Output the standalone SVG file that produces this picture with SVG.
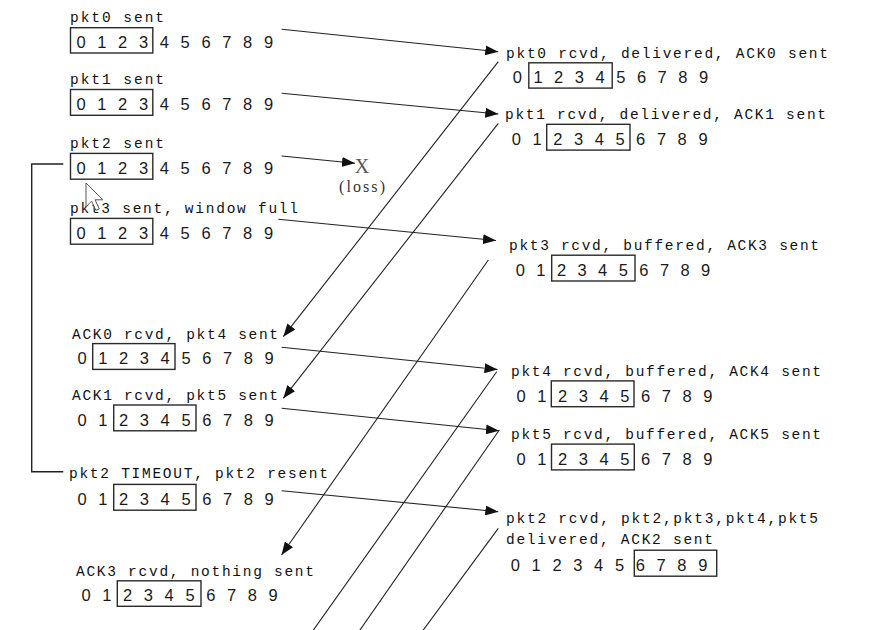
<svg xmlns="http://www.w3.org/2000/svg" width="896" height="630" viewBox="0 0 896 630">
<style>
.lbl{font-family:"Liberation Mono","Courier New",monospace;font-size:14.5px;fill:#111}
.dg{font-family:"Liberation Sans",Arial,sans-serif;font-size:16.5px;fill:#1a1a1a;text-anchor:middle}
.box{fill:none;stroke:#2a2a2a;stroke-width:1.4}
.ln{fill:none;stroke:#222;stroke-width:1.1}
.ar{marker-end:url(#ah)}
.serif{font-family:"Liberation Serif","Times New Roman",serif;fill:#333}
</style>
<defs>
<marker id="ah" viewBox="0 0 13 10" refX="13" refY="5" markerWidth="13" markerHeight="10" markerUnits="userSpaceOnUse" orient="auto">
<path d="M0,0 L13,5 L0,10 z" fill="#111"/>
</marker>
</defs>
<rect width="896" height="630" fill="#fff"/>

<g id="sender-pkt0">
<text class="lbl" x="70" y="22" textLength="94" lengthAdjust="spacing">pkt0 sent</text>
<rect class="box" x="70.5" y="27.7" width="82.3" height="25.3"/>
<text class="dg" x="81 101.8 122.7 143.5 164.3 185.2 206 226.8 247.6 268.5" y="48.3">0123456789</text>
</g>

<g id="sender-pkt1">
<text class="lbl" x="70" y="84" textLength="94" lengthAdjust="spacing">pkt1 sent</text>
<rect class="box" x="70.5" y="89.5" width="82.3" height="25.8"/>
<text class="dg" x="81 101.8 122.7 143.5 164.3 185.2 206 226.8 247.6 268.5" y="110.2">0123456789</text>
</g>

<g id="sender-pkt2">
<text class="lbl" x="70" y="148" textLength="94" lengthAdjust="spacing">pkt2 sent</text>
<rect class="box" x="70.5" y="153.4" width="82.3" height="25.8"/>
<text class="dg" x="81 101.8 122.7 143.5 164.3 185.2 206 226.8 247.6 268.5" y="174">0123456789</text>
</g>

<g id="sender-pkt3">
<text class="lbl" x="70" y="213" textLength="228" lengthAdjust="spacing">pkt3 sent, window full</text>
<rect class="box" x="70.5" y="218.4" width="82.3" height="25.8"/>
<text class="dg" x="81 101.8 122.7 143.5 164.3 185.2 206 226.8 247.6 268.5" y="239">0123456789</text>
</g>

<g id="sender-ack0">
<text class="lbl" x="72" y="338.5" textLength="206" lengthAdjust="spacing">ACK0 rcvd, pkt4 sent</text>
<rect class="box" x="92.7" y="343.6" width="82.3" height="25.8"/>
<text class="dg" x="82 102.8 123.6 144.4 165.2 186 206.8 227.6 248.4 269.2" y="364.2">0123456789</text>
</g>

<g id="sender-ack1">
<text class="lbl" x="72" y="399.5" textLength="206" lengthAdjust="spacing">ACK1 rcvd, pkt5 sent</text>
<rect class="box" x="113.7" y="405" width="82.3" height="25.8"/>
<text class="dg" x="82 102.8 123.6 144.4 165.2 186 206.8 227.6 248.4 269.2" y="425.6">0123456789</text>
</g>

<g id="sender-timeout">
<text class="lbl" x="69" y="478" textLength="259" lengthAdjust="spacing">pkt2 TIMEOUT, pkt2 resent</text>
<rect class="box" x="113.7" y="484.4" width="82.3" height="25.8"/>
<text class="dg" x="82 102.8 123.6 144.4 165.2 186 206.8 227.6 248.4 269.2" y="505">0123456789</text>
</g>

<g id="sender-ack3">
<text class="lbl" x="76" y="575.5" textLength="238" lengthAdjust="spacing">ACK3 rcvd, nothing sent</text>
<rect class="box" x="117.3" y="580.8" width="83.7" height="25.5"/>
<text class="dg" x="86 106.8 127.6 148.4 169.2 190 210.8 231.6 252.4 273.2" y="601.3">0123456789</text>
</g>

<g id="receiver-pkt0">
<text class="lbl" x="506" y="57.5" textLength="322" lengthAdjust="spacing">pkt0 rcvd, delivered, ACK0 sent</text>
<rect class="box" x="528.8" y="62.8" width="83.4" height="25.3"/>
<text class="dg" x="517.3 538 558.7 579.4 600.1 620.8 641.5 662.2 682.9 703.6" y="83.4">0123456789</text>
</g>

<g id="receiver-pkt1">
<text class="lbl" x="505" y="118.8" textLength="321" lengthAdjust="spacing">pkt1 rcvd, delivered, ACK1 sent</text>
<rect class="box" x="546.7" y="124.3" width="83.3" height="25.8"/>
<text class="dg" x="516.3 537 557.8 578.5 599.3 620 640.7 661.5 682.2 703" y="144.9">0123456789</text>
</g>

<g id="receiver-pkt3">
<text class="lbl" x="509" y="249.8" textLength="310" lengthAdjust="spacing">pkt3 rcvd, buffered, ACK3 sent</text>
<rect class="box" x="551.7" y="255.2" width="83.3" height="25.8"/>
<text class="dg" x="520.3 540.9 561.5 582.1 602.7 623.3 643.9 664.5 685.1 705.7" y="275.8">0123456789</text>
</g>

<g id="receiver-pkt4">
<text class="lbl" x="511" y="375.5" textLength="310" lengthAdjust="spacing">pkt4 rcvd, buffered, ACK4 sent</text>
<rect class="box" x="551.3" y="380.9" width="82.7" height="25.8"/>
<text class="dg" x="521 541.8 562.5 583.3 604 624.8 645.5 666.3 687 707.8" y="401.5">0123456789</text>
</g>

<g id="receiver-pkt5">
<text class="lbl" x="511" y="438.6" textLength="310" lengthAdjust="spacing">pkt5 rcvd, buffered, ACK5 sent</text>
<rect class="box" x="551.5" y="444.1" width="82.8" height="25.8"/>
<text class="dg" x="521 541.8 562.5 583.3 604 624.8 645.5 666.3 687 707.8" y="464.7">0123456789</text>
</g>

<g id="receiver-pkt2">
<text class="lbl" x="506" y="523" textLength="312" lengthAdjust="spacing">pkt2 rcvd, pkt2,pkt3,pkt4,pkt5</text>
<text class="lbl" x="506" y="543.5" textLength="207" lengthAdjust="spacing">delivered, ACK2 sent</text>
<rect class="box" x="634.3" y="550.2" width="82.4" height="26"/>
<text class="dg" x="515.3 536.1 557 577.8 598.6 619.5 640.3 661.1 681.9 702.8" y="570.8">0123456789</text>
</g>

<g id="loss">
<text class="serif" x="362" y="172.5" font-size="20" text-anchor="middle" style="fill:#555">X</text>
<text class="serif" x="339" y="192" font-size="16" textLength="46" lengthAdjust="spacing">(loss)</text>
</g>

<g id="connectors">
<polyline class="ln" points="63.3,164 31.7,164 31.7,471.7 63.3,471.7" style="stroke-width:1.4"/>
<line class="ln ar" x1="281.7" y1="29.3" x2="498.3" y2="51.7"/>
<line class="ln ar" x1="281.7" y1="93.3" x2="498.3" y2="114"/>
<line class="ln ar" x1="281.7" y1="156" x2="355" y2="163.3"/>
<line class="ln ar" x1="278.3" y1="219.3" x2="496" y2="240.5"/>
<line class="ln ar" x1="281.7" y1="347.3" x2="497.5" y2="369.5"/>
<line class="ln ar" x1="281.7" y1="408.3" x2="499" y2="430.7"/>
<line class="ln ar" x1="281.7" y1="490.7" x2="498.3" y2="511.7"/>
<line class="ln ar" x1="498.3" y1="61.7" x2="283.3" y2="336.7"/>
<line class="ln ar" x1="498.3" y1="123.3" x2="283.3" y2="398.3"/>
<line class="ln ar" x1="488.3" y1="260" x2="281.5" y2="555"/>
<line class="ln" x1="496.7" y1="371.7" x2="312" y2="632"/>
<line class="ln" x1="499.3" y1="430" x2="358.6" y2="632"/>
<line class="ln" x1="498.3" y1="528.3" x2="421.8" y2="632"/>
</g>

<g id="cursor">
<polygon points="86,183 86,206.8 91.6,201.2 95.8,210.3 99.3,208.9 95.1,199.8 102.8,199.8" fill="#fff" stroke="#555" stroke-width="1"/>
</g>
</svg>
